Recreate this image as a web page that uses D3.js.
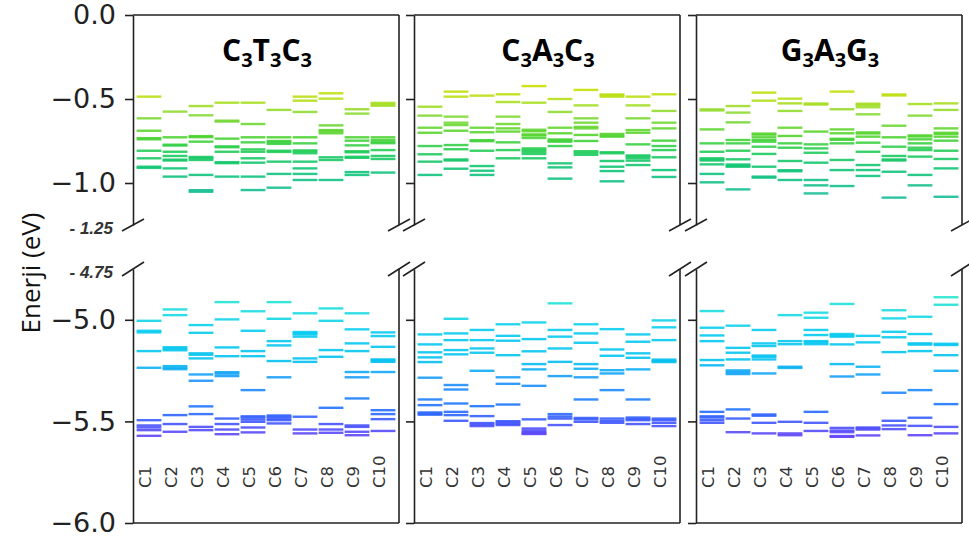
<!DOCTYPE html>
<html>
<head>
<meta charset="utf-8">
<script src="https://cdn.jsdelivr.net/npm/d3@7"></script>
<style>
  body { margin: 0; background: #fff; }
</style>
</head>
<body>
<script>
const categories = ["C1", "C2", "C3", "C4", "C5", "C6", "C7", "C8", "C9", "C10"];
const panelTitles = ["C3T3C3", "C3A3C3", "G3A3G3"];
const topTicks = [0.0, -0.5, -1.0];
const bottomTicks = [-5.0, -5.5, -6.0];
const breakLabels = ["- 1.25", "- 4.75"];

// C3T3C3 energy levels (eV), one list per conformer
const ctcTop = [
  [-0.486, -0.615, -0.689, -0.733, -0.740, -0.808, -0.853, -0.903, -0.910],
  [-0.575, -0.728, -0.772, -0.777, -0.814, -0.839, -0.861, -0.866, -0.913, -0.962],
  [-0.542, -0.597, -0.721, -0.727, -0.754, -0.845, -0.852, -0.863, -0.952, -1.043, -1.052],
  [-0.522, -0.629, -0.634, -0.736, -0.782, -0.787, -0.814, -0.876, -0.882, -0.962],
  [-0.522, -0.649, -0.728, -0.758, -0.800, -0.814, -0.853, -0.879, -0.962, -1.042],
  [-0.565, -0.728, -0.750, -0.758, -0.767, -0.808, -0.815, -0.873, -0.946, -1.028],
  [-0.486, -0.510, -0.577, -0.728, -0.764, -0.806, -0.812, -0.823, -0.873, -0.913, -0.946, -0.982],
  [-0.466, -0.498, -0.657, -0.685, -0.692, -0.704, -0.847, -0.863, -0.982],
  [-0.561, -0.587, -0.728, -0.748, -0.776, -0.811, -0.817, -0.844, -0.850, -0.935, -0.952],
  [-0.523, -0.532, -0.540, -0.728, -0.744, -0.757, -0.763, -0.804, -0.839, -0.857, -0.938]
];
const ctcBottom = [
  [-5.005, -5.054, -5.062, -5.154, -5.236, -5.494, -5.520, -5.530, -5.543, -5.571],
  [-4.949, -4.977, -5.135, -5.142, -5.150, -5.228, -5.236, -5.243, -5.469, -5.513, -5.551],
  [-5.026, -5.064, -5.165, -5.172, -5.190, -5.269, -5.300, -5.426, -5.464, -5.527, -5.543],
  [-4.913, -4.998, -5.136, -5.179, -5.258, -5.265, -5.277, -5.486, -5.513, -5.540, -5.563],
  [-4.958, -5.054, -5.154, -5.179, -5.346, -5.475, -5.481, -5.491, -5.502, -5.530, -5.554],
  [-4.913, -4.995, -5.105, -5.126, -5.203, -5.283, -5.471, -5.477, -5.486, -5.494, -5.510],
  [-4.968, -5.060, -5.066, -5.072, -5.083, -5.190, -5.207, -5.477, -5.540, -5.559],
  [-4.944, -5.005, -5.149, -5.182, -5.433, -5.513, -5.540, -5.556],
  [-4.968, -5.047, -5.116, -5.154, -5.257, -5.283, -5.387, -5.520, -5.527, -5.551, -5.568],
  [-5.062, -5.080, -5.133, -5.195, -5.200, -5.207, -5.257, -5.445, -5.464, -5.489, -5.547]
];

// C3A3C3
const cacTop = [
  [-0.546, -0.599, -0.671, -0.701, -0.780, -0.829, -0.873, -0.952],
  [-0.456, -0.486, -0.605, -0.641, -0.655, -0.689, -0.774, -0.799, -0.860, -0.866, -0.915],
  [-0.480, -0.671, -0.698, -0.745, -0.751, -0.808, -0.899, -0.927, -0.952],
  [-0.472, -0.518, -0.605, -0.649, -0.675, -0.694, -0.758, -0.804, -0.853],
  [-0.423, -0.522, -0.683, -0.692, -0.711, -0.717, -0.732, -0.794, -0.804, -0.814, -0.827, -0.853],
  [-0.500, -0.577, -0.671, -0.704, -0.741, -0.748, -0.754, -0.780, -0.883, -0.907, -0.974],
  [-0.446, -0.538, -0.615, -0.641, -0.666, -0.675, -0.714, -0.750, -0.811, -0.820, -0.832],
  [-0.473, -0.479, -0.486, -0.708, -0.718, -0.724, -0.817, -0.823, -0.869, -0.903, -0.929, -0.990],
  [-0.486, -0.538, -0.615, -0.685, -0.701, -0.770, -0.836, -0.842, -0.853, -0.867, -0.893],
  [-0.472, -0.571, -0.641, -0.675, -0.748, -0.780, -0.804, -0.847, -0.923, -0.964]
];
const cacBottom = [
  [-5.072, -5.121, -5.160, -5.185, -5.208, -5.285, -5.392, -5.420, -5.456, -5.462, -5.467],
  [-4.995, -5.067, -5.100, -5.149, -5.170, -5.321, -5.343, -5.412, -5.453, -5.469, -5.497],
  [-5.050, -5.100, -5.141, -5.162, -5.251, -5.425, -5.474, -5.508, -5.515, -5.523],
  [-5.022, -5.079, -5.103, -5.174, -5.283, -5.315, -5.417, -5.499, -5.505, -5.512, -5.518],
  [-5.013, -5.095, -5.155, -5.218, -5.244, -5.325, -5.490, -5.535, -5.545, -5.553, -5.559, -5.562],
  [-4.919, -5.050, -5.083, -5.141, -5.207, -5.277, -5.464, -5.476, -5.486, -5.518],
  [-5.022, -5.067, -5.113, -5.218, -5.241, -5.283, -5.392, -5.483, -5.490, -5.502],
  [-5.046, -5.146, -5.177, -5.248, -5.264, -5.346, -5.486, -5.497, -5.507],
  [-5.072, -5.108, -5.165, -5.187, -5.244, -5.392, -5.481, -5.488, -5.494, -5.513],
  [-5.003, -5.037, -5.100, -5.196, -5.202, -5.208, -5.486, -5.494, -5.507, -5.523]
];

// G3A3G3
const gagTop = [
  [-0.562, -0.568, -0.681, -0.764, -0.814, -0.853, -0.860, -0.866, -0.889, -0.946, -0.996],
  [-0.542, -0.581, -0.639, -0.744, -0.764, -0.808, -0.859, -0.890, -0.897, -0.903, -1.038],
  [-0.462, -0.510, -0.706, -0.712, -0.728, -0.744, -0.754, -0.784, -0.827, -0.903, -0.962, -0.968],
  [-0.498, -0.526, -0.571, -0.671, -0.720, -0.764, -0.790, -0.869, -0.924, -0.930, -0.982],
  [-0.527, -0.533, -0.694, -0.770, -0.794, -0.820, -0.879, -0.982, -1.014, -1.062],
  [-0.456, -0.561, -0.681, -0.704, -0.737, -0.743, -0.764, -0.863, -0.923, -1.018],
  [-0.528, -0.535, -0.549, -0.591, -0.699, -0.705, -0.724, -0.760, -0.814, -0.893, -0.923, -0.958],
  [-0.473, -0.479, -0.659, -0.728, -0.784, -0.839, -0.860, -0.866, -0.933, -1.087],
  [-0.530, -0.599, -0.717, -0.723, -0.740, -0.764, -0.790, -0.804, -0.843, -0.952, -1.014],
  [-0.526, -0.565, -0.675, -0.701, -0.707, -0.724, -0.748, -0.808, -0.857, -0.913, -1.082]
];
const gagBottom = [
  [-4.957, -5.039, -5.077, -5.105, -5.198, -5.224, -5.453, -5.475, -5.481, -5.494, -5.507],
  [-5.029, -5.138, -5.162, -5.195, -5.249, -5.258, -5.267, -5.441, -5.486, -5.553],
  [-5.050, -5.116, -5.129, -5.176, -5.182, -5.195, -5.264, -5.466, -5.472, -5.507, -5.559],
  [-4.977, -5.105, -5.120, -5.231, -5.237, -5.502, -5.559, -5.568],
  [-4.965, -4.990, -5.050, -5.075, -5.105, -5.111, -5.120, -5.453, -5.507, -5.547],
  [-4.922, -5.070, -5.077, -5.083, -5.121, -5.218, -5.279, -5.532, -5.545, -5.553, -5.572, -5.576],
  [-5.079, -5.111, -5.231, -5.269, -5.530, -5.535, -5.540, -5.569],
  [-4.953, -4.993, -5.059, -5.086, -5.159, -5.359, -5.497, -5.520, -5.538],
  [-4.985, -5.070, -5.116, -5.122, -5.154, -5.346, -5.482, -5.522, -5.568],
  [-4.889, -4.926, -5.118, -5.124, -5.174, -5.251, -5.415, -5.527, -5.559]
];

const panels = [
  { title: panelTitles[0], top: ctcTop, bottom: ctcBottom },
  { title: panelTitles[1], top: cacTop, bottom: cacBottom },
  { title: panelTitles[2], top: gagTop, bottom: gagBottom }
];

const width = 969, height = 542;
const panelLeft = [133, 414, 696];
const panelWidth = 266;
const topRange = [15, 225];
const bottomRange = [269, 523];

const svg = d3.select("body").append("svg")
  .attr("width", width)
  .attr("height", height)
  .style("font-family", "'DejaVu Sans', sans-serif");

const yTop = d3.scaleLinear().domain([0, -1.25]).range(topRange);
const yBottom = d3.scaleLinear().domain([-4.75, -6.0]).range(bottomRange);

const colorTop = d3.scaleLinear()
  .domain([-0.42, -0.5, -0.6, -0.72, -0.82, -0.92, -1.1])
  .range(["#cce000", "#b6e01a", "#84da3a", "#52d42e", "#1ecc5c", "#10c478", "#18bc9c"])
  .clamp(true);
const colorBottom = d3.scaleLinear()
  .domain([-4.88, -4.96, -5.05, -5.2, -5.3, -5.44, -5.5, -5.58])
  .range(["#26e6cc", "#1cdce2", "#08ccf0", "#04c2f0", "#1c94fa", "#2272ff", "#3e58ff", "#6644f4"])
  .clamp(true);

const axisColor = "#222";

// y-axis title
svg.append("text")
  .attr("transform", "translate(40,273) rotate(-90)")
  .attr("text-anchor", "middle")
  .style("font-family", "'Open Sans', sans-serif")
  .style("font-size", "26px")
  .attr("fill", "#111")
  .text("Enerji (eV)");

panels.forEach((p, i) => {
  const left = panelLeft[i];
  const right = left + panelWidth;
  const g = svg.append("g");

  const x = d3.scaleBand()
    .domain(categories)
    .range([left + 3, right - 3])
    .padding(0);

  const sections = [
    { levels: p.top, y: yTop, color: colorTop },
    { levels: p.bottom, y: yBottom, color: colorBottom }
  ];
  sections.forEach(s => {
    const rows = [];
    s.levels.forEach((arr, k) => arr.forEach(e => rows.push({ cat: categories[k], e })));
    g.append("g").selectAll("line")
      .data(rows)
      .enter()
      .append("line")
      .attr("x1", d => x(d.cat) + 0.6)
      .attr("x2", d => x(d.cat) + x.bandwidth() - 0.6)
      .attr("y1", d => s.y(d.e))
      .attr("y2", d => s.y(d.e))
      .attr("stroke", d => s.color(d.e))
      .attr("stroke-width", 2.4)
      .attr("stroke-opacity", 0.9);
  });

  // left axes
  const fmt = i === 0 ? d3.format(".1f") : () => "";
  const axTop = g.append("g")
    .attr("transform", `translate(${left},0)`)
    .call(d3.axisLeft(yTop).tickValues(topTicks).tickSize(8).tickSizeOuter(0).tickPadding(9).tickFormat(fmt));
  const axBottom = g.append("g")
    .attr("transform", `translate(${left},0)`)
    .call(d3.axisLeft(yBottom).tickValues(bottomTicks).tickSize(8).tickSizeOuter(0).tickPadding(9).tickFormat(fmt));
  [axTop, axBottom].forEach(ax => {
    ax.selectAll("path, line").attr("stroke", axisColor).attr("stroke-width", 1.6);
    ax.selectAll("text")
      .attr("fill", "#222")
      .style("font-family", "'DejaVu Sans', sans-serif")
      .style("font-size", "27px");
  });

  // frame lines
  const frame = g.append("g").attr("stroke", axisColor).attr("stroke-width", 1.6).attr("fill", "none");
  frame.append("line").attr("x1", right).attr("x2", right).attr("y1", topRange[0]).attr("y2", topRange[1]);
  frame.append("line").attr("x1", right).attr("x2", right).attr("y1", bottomRange[0]).attr("y2", bottomRange[1]);
  frame.append("line").attr("x1", left).attr("x2", right).attr("y1", topRange[0]).attr("y2", topRange[0]);
  frame.append("line").attr("x1", left).attr("x2", right).attr("y1", bottomRange[1]).attr("y2", bottomRange[1]);

  // break marks
  [left, right].forEach(ex => {
    frame.append("line").attr("x1", ex - 11).attr("y1", topRange[1] + 6).attr("x2", ex + 11).attr("y2", topRange[1] - 6);
    frame.append("line").attr("x1", ex - 11).attr("y1", bottomRange[0] + 7).attr("x2", ex + 11).attr("y2", bottomRange[0] - 7);
  });

  // category labels
  g.append("g").selectAll("text")
    .data(categories)
    .enter()
    .append("text")
    .attr("transform", d => `translate(${x(d) + x.bandwidth() / 2 + 2},488) rotate(-90)`)
    .attr("text-anchor", "start")
    .style("font-size", "16.5px")
    .attr("fill", "#333")
    .text(d => d);

  // panel title with subscripts
  const title = g.append("text")
    .attr("x", left + panelWidth / 2 + 1)
    .attr("y", 61)
    .attr("text-anchor", "middle")
    .style("font-family", "'Open Sans', sans-serif")
    .style("font-weight", "bold")
    .style("font-size", "30px")
    .attr("fill", "#000");
  let sub = false;
  p.title.split("").forEach(ch => {
    const isDigit = /[0-9]/.test(ch);
    const t = title.append("tspan").text(ch);
    if (isDigit && !sub) { t.attr("dy", 6).style("font-size", "20px"); sub = true; }
    else if (isDigit) { t.style("font-size", "20px"); }
    else if (sub) { t.attr("dy", -6); sub = false; }
  });
});

// break value labels
svg.append("g").selectAll("text")
  .data(breakLabels)
  .enter()
  .append("text")
  .attr("x", 113)
  .attr("y", (d, k) => k === 0 ? 234 : 278)
  .attr("text-anchor", "end")
  .style("font-family", "'Liberation Sans', sans-serif")
  .style("font-style", "italic")
  .style("font-weight", "bold")
  .style("font-size", "17px")
  .attr("fill", "#333")
  .text(d => d);
</script>
</body>
</html>
